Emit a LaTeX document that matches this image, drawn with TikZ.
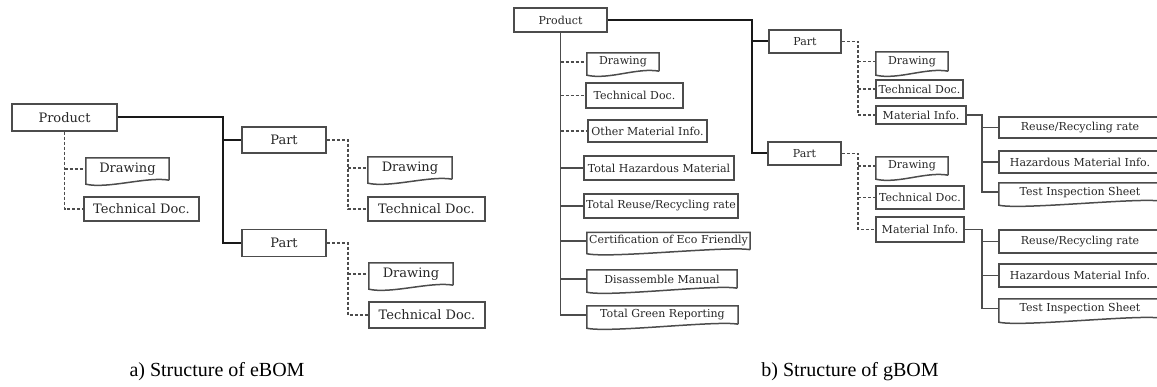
\documentclass[tikz,border=0pt]{standalone}
\usepackage{fontspec}
\setmainfont{DejaVu Serif}
\newfontfamily\capfont{Liberation Serif}
\definecolor{boxgray}{gray}{0.3}
\definecolor{textgray}{gray}{0.15}
\tikzset{
  box/.style={draw=boxgray, line width=1.5pt, inner sep=0pt, text=textgray},
  docbox/.style={inner sep=0pt, text=textgray},
  ebom/.style={font=\fontsize{13}{13}\selectfont},
  gbom/.style={font=\fontsize{11}{11}\selectfont},
  boxline/.style={draw=boxgray, line width=1.5pt},
  mainline/.style={draw=black!90, line width=2pt},
  subline/.style={draw=boxgray, line width=1.5pt},
  dashline/.style={draw=boxgray, line width=1.3pt, dash pattern=on 3pt off 2pt},
  caption/.style={font=\capfont\fontsize{20}{20}\selectfont, text=black},
}

\begin{document}
\begin{tikzpicture}[x=1pt,y=-1pt]
\useasboundingbox (0,0) rectangle (1157,387);

% a) eBOM
\node[box,ebom,minimum width=105pt,minimum height=27pt] (prodA) at (64.5,117.5) {Product};
\node[box,ebom,minimum width=84pt,minimum height=26pt] (partA1) at (284,140) {Part};
\node[box,ebom,minimum width=84pt,minimum height=27pt] (partA2) at (284,243) {Part};
\node[docbox,ebom,minimum width=83pt,minimum height=22pt] (drwA0) at (127.5,169) {Drawing};
\node[box,ebom,minimum width=115pt,minimum height=24pt] (tecA0) at (141.5,209) {Technical Doc.};
\node[docbox,ebom,minimum width=84pt,minimum height=22pt] (drwA1) at (410,168) {Drawing};
\node[box,ebom,minimum width=117pt,minimum height=24pt] (tecA1) at (426.5,209) {Technical Doc.};
\node[docbox,ebom,minimum width=84pt,minimum height=22pt] (drwA2) at (411,274) {Drawing};
\node[box,ebom,minimum width=116pt,minimum height=26pt] (tecA2) at (427,315) {Technical Doc.};

\coordinate (tA) at (223,0);
\coordinate (dA) at (348,0);
\draw[mainline] (prodA.east) -| (tA |- partA2.west) -- (partA2.west);
\draw[mainline] (tA |- partA1.west) -- (partA1.west);
\draw[dashline] (prodA.south) |- (tecA0.west);
\draw[dashline] (prodA.south |- drwA0.west) -- (drwA0.west);
\draw[dashline] (partA1.east) -| (dA |- tecA1.west) -- (tecA1.west);
\draw[dashline] (dA |- drwA1.west) -- (drwA1.west);
\draw[dashline] (partA2.east) -| (dA |- tecA2.west) -- (tecA2.west);
\draw[dashline] (dA |- drwA2.west) -- (drwA2.west);

% b) gBOM
\node[box,gbom,minimum width=93pt,minimum height=24pt] (prodB) at (560.5,20) {Product};
\node[box,gbom,minimum width=72pt,minimum height=23pt] (partB1) at (805,41.5) {Part};
\node[box,gbom,minimum width=73pt,minimum height=23pt] (partB2) at (804.5,153.5) {Part};

\node[docbox,gbom,minimum width=72pt,minimum height=18pt] (gDrw) at (623,62) {Drawing};
\node[box,gbom,minimum width=97pt,minimum height=25pt] (gTec) at (634.5,95.5) {Technical Doc.};
\node[box,gbom,minimum width=119pt,minimum height=22pt] (gOth) at (647.5,131) {Other Material Info.};
\node[box,gbom,minimum width=150pt,minimum height=24pt] (gHaz) at (659,168) {Total Hazardous Material};
\node[box,gbom,minimum width=154pt,minimum height=24pt] (gReu) at (661,206) {Total Reuse/Recycling rate};
\node[docbox,gbom,minimum width=163pt,minimum height=17pt] (gCer) at (668.5,241) {Certification of Eco Friendly};
\node[docbox,gbom,minimum width=150pt,minimum height=18pt] (gDis) at (662,279) {Disassemble Manual};
\node[docbox,gbom,minimum width=151pt,minimum height=18pt] (gGrn) at (662.5,315) {Total Green Reporting};

\node[docbox,gbom,minimum width=72pt,minimum height=19pt] (bDrw1) at (912,61.5) {Drawing};
\node[box,gbom,minimum width=87pt,minimum height=18pt] (bTec1) at (919.5,89) {Technical Doc.};
\node[box,gbom,minimum width=90pt,minimum height=18pt] (bMat1) at (921,115) {Material Info.};
\node[docbox,gbom,minimum width=72pt,minimum height=18pt] (bDrw2) at (912,166) {Drawing};
\node[box,gbom,minimum width=88pt,minimum height=23pt] (bTec2) at (920,197.5) {Technical Doc.};
\node[box,gbom,minimum width=88pt,minimum height=25pt] (bMat2) at (920,229.5) {Material Info.};

\node[box,gbom,minimum width=162pt,minimum height=21pt] (reu1) at (1080,127.5) {Reuse/Recycling rate};
\node[box,gbom,minimum width=162pt,minimum height=22pt] (haz1) at (1080,162) {Hazardous Material Info.};
\node[docbox,gbom,minimum width=162pt,minimum height=18pt] (tst1) at (1080,192) {Test Inspection Sheet};
\node[box,gbom,minimum width=162pt,minimum height=23pt] (reu2) at (1080,241.5) {Reuse/Recycling rate};
\node[box,gbom,minimum width=162pt,minimum height=23pt] (haz2) at (1080,275.5) {Hazardous Material Info.};
\node[docbox,gbom,minimum width=162pt,minimum height=19pt] (tst2) at (1080,308.5) {Test Inspection Sheet};

% document shapes: wavy bottom edge
\foreach \d in {drwA0,drwA1,drwA2,gDrw,gCer,gDis,gGrn,bDrw1,bDrw2,tst1,tst2}
  \draw[boxline] (\d.south east) -- (\d.north east) -- (\d.north west) -- ([yshift=-4pt]\d.south west)
    .. controls +(22,5) and +(-22,-4) .. (\d.south east);

\coordinate (tB) at (752,0);
\coordinate (dB) at (858,0);
\coordinate (mB) at (982,0);
\draw[mainline] (prodB.east) -| (tB |- partB2.west) -- (partB2.west);
\draw[mainline] (tB |- partB1.west) -- (partB1.west);

\draw[subline] (prodB.south) |- (gGrn.west);
\foreach \g in {gHaz,gReu,gCer,gDis}
  \draw[subline] (prodB.south |- \g.west) -- (\g.west);
\foreach \g in {gDrw,gTec,gOth}
  \draw[dashline] (prodB.south |- \g.west) -- (\g.west);

\draw[dashline] (partB1.east) -| (dB |- bMat1.west) -- (bMat1.west);
\draw[dashline] (dB |- bDrw1.west) -- (bDrw1.west);
\draw[dashline] (dB |- bTec1.west) -- (bTec1.west);
\draw[dashline] (partB2.east) -| (dB |- bMat2.west) -- (bMat2.west);
\draw[dashline] (dB |- bDrw2.west) -- (bDrw2.west);
\draw[dashline] (dB |- bTec2.west) -- (bTec2.west);

\draw[subline] (bMat1.east) -| (mB |- tst1.west) -- (tst1.west);
\draw[subline] (mB |- reu1.west) -- (reu1.west);
\draw[subline] (mB |- haz1.west) -- (haz1.west);
\draw[subline] (bMat2.east) -| (mB |- tst2.west) -- (tst2.west);
\draw[subline] (mB |- reu2.west) -- (reu2.west);
\draw[subline] (mB |- haz2.west) -- (haz2.west);

% captions
\node[caption] (capA) at (217,372) {a) Structure of eBOM};
\node[caption] (capB) at (850,372) {b) Structure of gBOM};
\end{tikzpicture}
\end{document}
